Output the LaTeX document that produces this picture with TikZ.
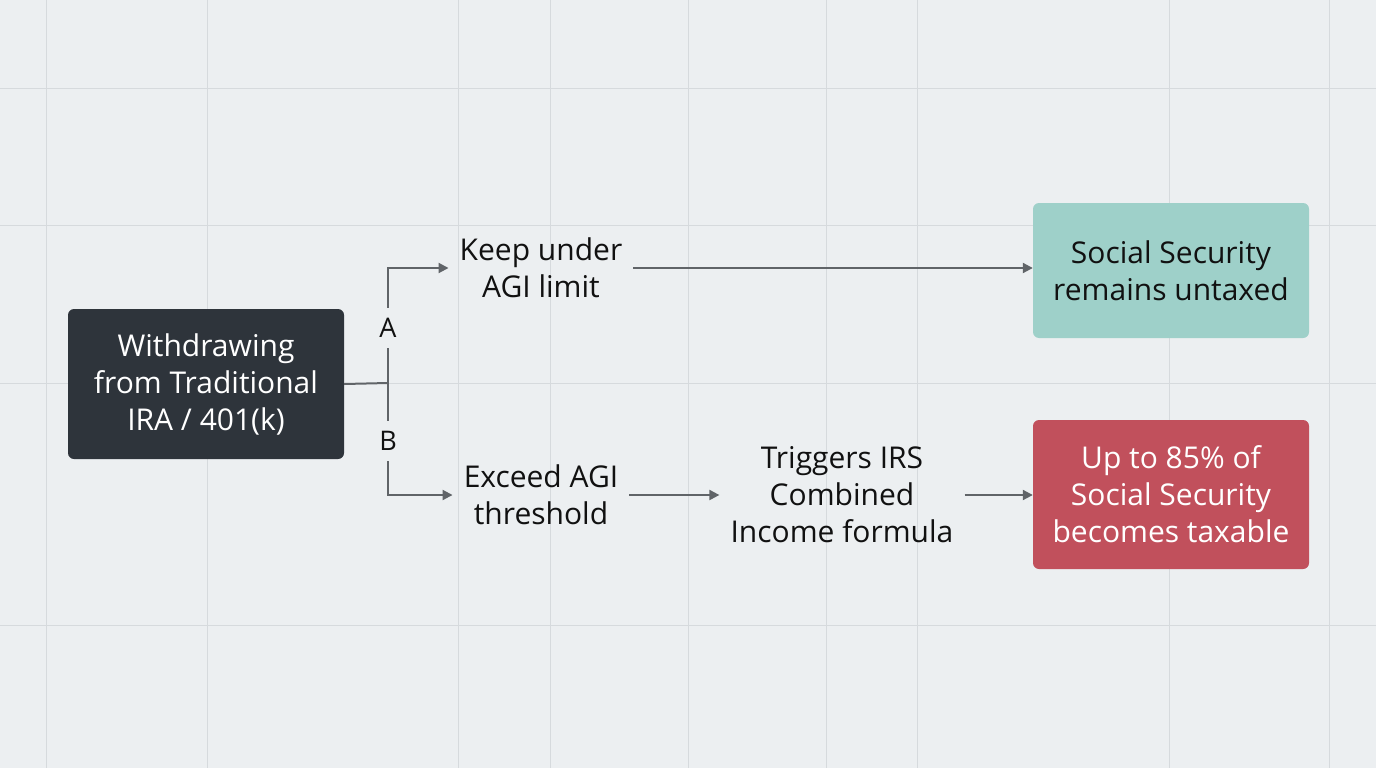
\documentclass[tikz,border=0pt]{standalone}
\usepackage{fontspec}
\setmainfont{Open Sans}
\usetikzlibrary{arrows.meta}
\definecolor{bgc}{HTML}{ECEFF1}
\definecolor{gridc}{HTML}{D6DADD}
\definecolor{darkc}{HTML}{2E343B}
\definecolor{tealc}{HTML}{9ED0C9}
\definecolor{redc}{HTML}{C1505C}
\definecolor{linec}{HTML}{606468}
\definecolor{txtc}{HTML}{111111}
\tikzset{
  gridline/.style={draw=gridc, line width=1pt},
  boxbase/.style={rounded corners=6pt, align=center, minimum width=276pt, inner sep=0pt},
  darkbox/.style={boxbase, fill=darkc, text=white, minimum height=150pt},
  tealbox/.style={boxbase, fill=tealc, text=txtc, minimum height=135pt},
  redbox/.style={boxbase, fill=redc, text=white, minimum height=149pt},
  plaintext/.style={align=center, text=txtc, inner xsep=11pt, inner ysep=6pt},
  branchlbl/.style={fill=bgc, text=txtc, inner xsep=4pt, inner ysep=10pt, font=\fontsize{27}{30}\selectfont},
  conn/.style={draw=linec, line width=2pt},
  arrowconn/.style={conn, -{Triangle[length=10pt,width=10pt]}},
}
\begin{document}
\begin{tikzpicture}[x=1pt,y=-1pt,font=\fontsize{30}{37}\selectfont]
\fill[bgc] (0,0) rectangle (1376,768);
\useasboundingbox (0,0) rectangle (1376,768);
\foreach \gx in {46,207,458,550,688,826,917,1169,1329}
  \draw[gridline] (\gx,0) -- (\gx,768);
\foreach \gy in {88,225,383,625}
  \draw[gridline] (0,\gy) -- (1376,\gy);

\node[darkbox] (src) at (206,384) {Withdrawing\\from Traditional\\IRA / 401(k)};
\node[tealbox] (ok) at (1171,270.5) {Social Security\\remains untaxed};
\node[redbox] (tax) at (1171,494.5) {Up to 85\% of\\Social Security\\becomes taxable};
\node[plaintext] (keep) at (541,268) {Keep under\\AGI limit};
\node[plaintext] (exceed) at (541,495) {Exceed AGI\\threshold};
\node[plaintext] (trig) at (842,495) {Triggers IRS\\Combined\\Income formula};

\coordinate (jn) at (388,383);
\draw[conn] (src.east) -- (jn);
\draw[arrowconn] (jn) |- (keep.west);
\draw[arrowconn] (jn) |- (exceed.west);
\node[branchlbl] (la) at (388,328) {A};
\node[branchlbl] (lb) at (388,441) {B};

\draw[arrowconn] (keep.east) -- (keep.east -| ok.west);
\draw[arrowconn] (exceed.east) -- (trig.west);
\draw[arrowconn] (trig.east) -- (trig.east -| tax.west);
\end{tikzpicture}
\end{document}
